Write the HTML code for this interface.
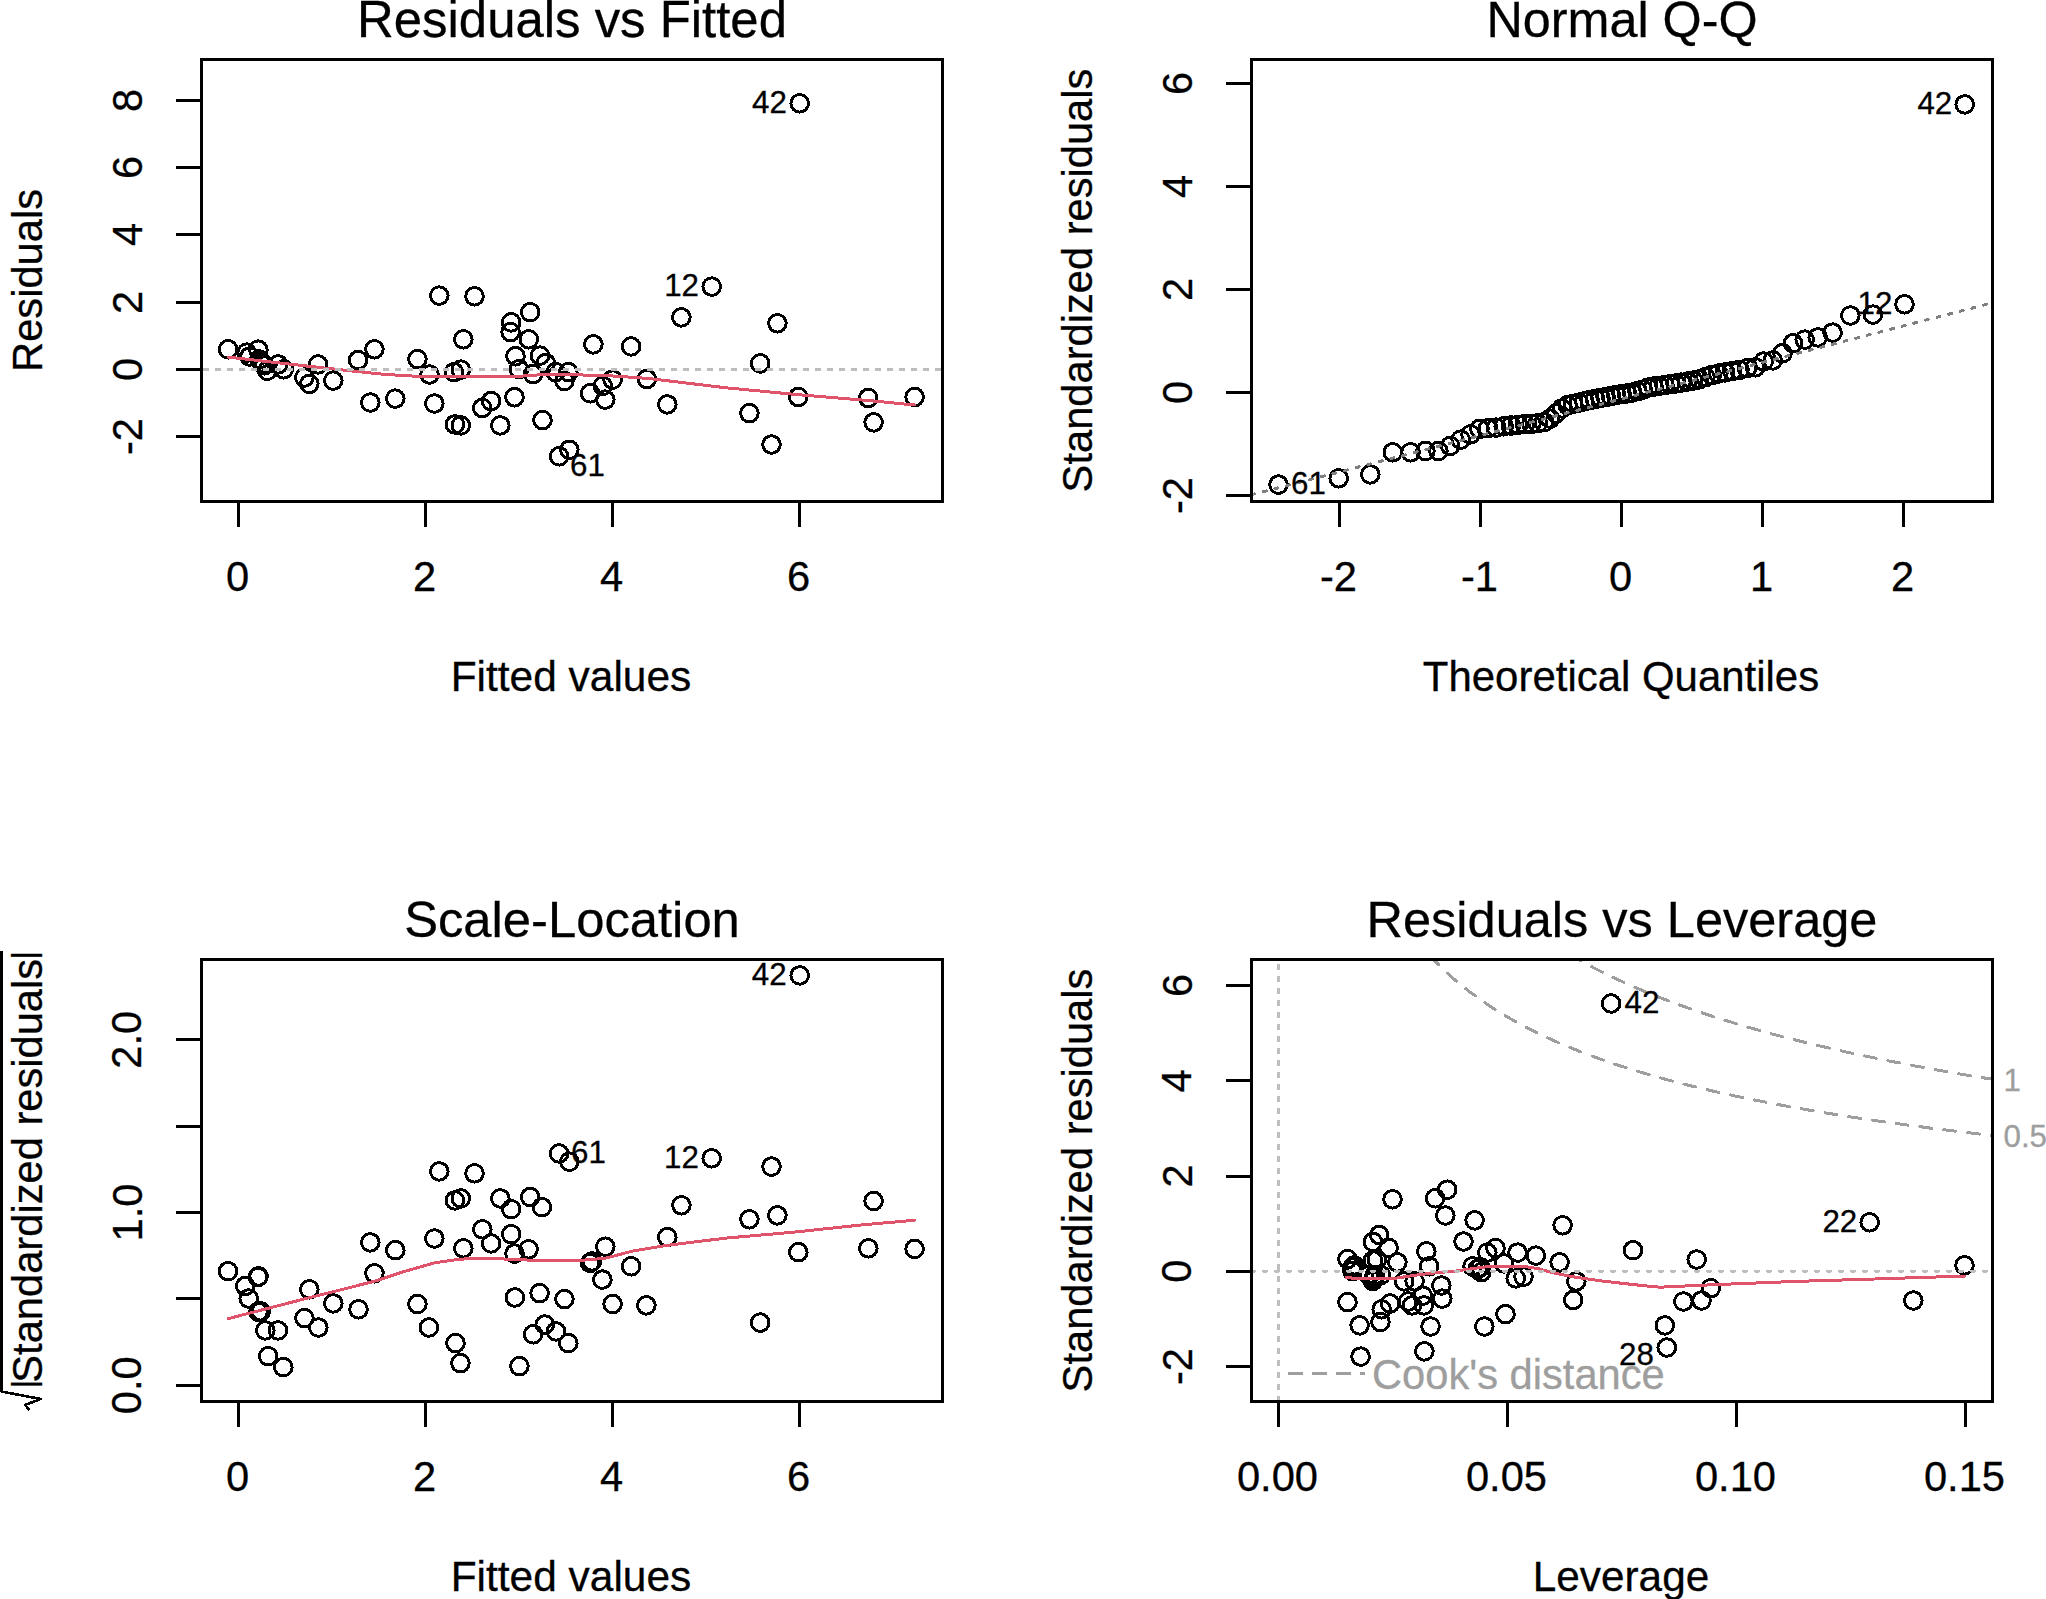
<!DOCTYPE html>
<html lang="en">
<head>
<meta charset="utf-8">
<title>Regression diagnostic plots</title>
<style>
html,body{margin:0;padding:0;background:#fff;}
body{width:2046px;height:1599px;overflow:hidden;}
svg{display:block;}
svg text{font-family:"Liberation Sans",Arial,Helvetica,sans-serif;}
</style>
</head>
<body>
<svg width="2046" height="1599" viewBox="0 0 2046 1599" shape-rendering="crispEdges">
<rect x="0" y="0" width="2046" height="1599" fill="#fff"/>
<rect x="201.5" y="59.5" width="741.0" height="442.0" fill="none" stroke="#000" stroke-width="3.0"/>
<text x="572.0" y="36.9" font-size="50.9" text-anchor="middle" fill="#000" stroke="#000" stroke-width="0.3">Residuals vs Fitted</text>
<line x1="238.5" y1="501.5" x2="238.5" y2="527.0" stroke="#000" stroke-width="3.0"/>
<text x="237.5" y="590.8" font-size="41.67" text-anchor="middle" fill="#000" stroke="#000" stroke-width="0.3">0</text>
<line x1="425.5" y1="501.5" x2="425.5" y2="527.0" stroke="#000" stroke-width="3.0"/>
<text x="424.5" y="590.8" font-size="41.67" text-anchor="middle" fill="#000" stroke="#000" stroke-width="0.3">2</text>
<line x1="612.5" y1="501.5" x2="612.5" y2="527.0" stroke="#000" stroke-width="3.0"/>
<text x="611.5" y="590.8" font-size="41.67" text-anchor="middle" fill="#000" stroke="#000" stroke-width="0.3">4</text>
<line x1="799.5" y1="501.5" x2="799.5" y2="527.0" stroke="#000" stroke-width="3.0"/>
<text x="798.5" y="590.8" font-size="41.67" text-anchor="middle" fill="#000" stroke="#000" stroke-width="0.3">6</text>
<text x="571.0" y="691.1" font-size="42.45" text-anchor="middle" fill="#000" stroke="#000" stroke-width="0.3">Fitted values</text>
<line x1="176.0" y1="100.5" x2="201.5" y2="100.5" stroke="#000" stroke-width="3.0"/>
<text x="141.5" y="100.5" font-size="41.67" text-anchor="middle" fill="#000" stroke="#000" stroke-width="0.3" transform="rotate(-90 141.5 100.5)">8</text>
<line x1="176.0" y1="167.5" x2="201.5" y2="167.5" stroke="#000" stroke-width="3.0"/>
<text x="141.5" y="167.5" font-size="41.67" text-anchor="middle" fill="#000" stroke="#000" stroke-width="0.3" transform="rotate(-90 141.5 167.5)">6</text>
<line x1="176.0" y1="234.5" x2="201.5" y2="234.5" stroke="#000" stroke-width="3.0"/>
<text x="141.5" y="234.5" font-size="41.67" text-anchor="middle" fill="#000" stroke="#000" stroke-width="0.3" transform="rotate(-90 141.5 234.5)">4</text>
<line x1="176.0" y1="302.5" x2="201.5" y2="302.5" stroke="#000" stroke-width="3.0"/>
<text x="141.5" y="302.5" font-size="41.67" text-anchor="middle" fill="#000" stroke="#000" stroke-width="0.3" transform="rotate(-90 141.5 302.5)">2</text>
<line x1="176.0" y1="369.5" x2="201.5" y2="369.5" stroke="#000" stroke-width="3.0"/>
<text x="141.5" y="369.5" font-size="41.67" text-anchor="middle" fill="#000" stroke="#000" stroke-width="0.3" transform="rotate(-90 141.5 369.5)">0</text>
<line x1="176.0" y1="436.5" x2="201.5" y2="436.5" stroke="#000" stroke-width="3.0"/>
<text x="141.5" y="436.5" font-size="41.67" text-anchor="middle" fill="#000" stroke="#000" stroke-width="0.3" transform="rotate(-90 141.5 436.5)">-2</text>
<text x="41.5" y="280.5" font-size="41.67" text-anchor="middle" fill="#000" stroke="#000" stroke-width="0.3" transform="rotate(-90 41.5 280.5)">Residuals</text>
<g fill="none" stroke="#000" stroke-width="3.0">
<circle cx="228.1" cy="349.3" r="8.8"/>
<circle cx="246.7" cy="352.6" r="8.8"/>
<circle cx="249.6" cy="356.5" r="8.8"/>
<circle cx="258.4" cy="349.7" r="8.8"/>
<circle cx="259.4" cy="359.5" r="8.8"/>
<circle cx="261.4" cy="362.4" r="8.8"/>
<circle cx="264.3" cy="365.3" r="8.8"/>
<circle cx="267.2" cy="370.8" r="8.8"/>
<circle cx="278.2" cy="364.4" r="8.8"/>
<circle cx="283.8" cy="369.3" r="8.8"/>
<circle cx="304.4" cy="377.5" r="8.8"/>
<circle cx="309.3" cy="383.9" r="8.8"/>
<circle cx="318.1" cy="364.4" r="8.8"/>
<circle cx="333.3" cy="380.6" r="8.8"/>
<circle cx="358.1" cy="360.1" r="8.8"/>
<circle cx="374.4" cy="349.3" r="8.8"/>
<circle cx="370.3" cy="402.5" r="8.8"/>
<circle cx="395.3" cy="398.6" r="8.8"/>
<circle cx="417.4" cy="359.1" r="8.8"/>
<circle cx="429.5" cy="374.5" r="8.8"/>
<circle cx="434.4" cy="403.5" r="8.8"/>
<circle cx="439.3" cy="295.6" r="8.8"/>
<circle cx="474.5" cy="296.3" r="8.8"/>
<circle cx="463.3" cy="339.3" r="8.8"/>
<circle cx="453.9" cy="372.2" r="8.8"/>
<circle cx="460.8" cy="369.6" r="8.8"/>
<circle cx="454.9" cy="424.4" r="8.8"/>
<circle cx="460.8" cy="425.4" r="8.8"/>
<circle cx="482.3" cy="408.0" r="8.8"/>
<circle cx="491.1" cy="401.1" r="8.8"/>
<circle cx="500.3" cy="425.4" r="8.8"/>
<circle cx="511.2" cy="322.3" r="8.8"/>
<circle cx="510.6" cy="332.1" r="8.8"/>
<circle cx="530.2" cy="312.2" r="8.8"/>
<circle cx="528.8" cy="339.3" r="8.8"/>
<circle cx="515.5" cy="356.2" r="8.8"/>
<circle cx="519.0" cy="369.3" r="8.8"/>
<circle cx="514.5" cy="397.2" r="8.8"/>
<circle cx="540.0" cy="355.6" r="8.8"/>
<circle cx="545.8" cy="363.0" r="8.8"/>
<circle cx="533.1" cy="374.1" r="8.8"/>
<circle cx="542.5" cy="420.1" r="8.8"/>
<circle cx="555.6" cy="372.2" r="8.8"/>
<circle cx="568.3" cy="372.2" r="8.8"/>
<circle cx="564.4" cy="381.0" r="8.8"/>
<circle cx="559.1" cy="456.3" r="8.8"/>
<circle cx="569.3" cy="449.8" r="8.8"/>
<circle cx="593.4" cy="344.4" r="8.8"/>
<circle cx="631.1" cy="346.4" r="8.8"/>
<circle cx="612.6" cy="379.6" r="8.8"/>
<circle cx="602.8" cy="385.9" r="8.8"/>
<circle cx="590.1" cy="393.3" r="8.8"/>
<circle cx="605.3" cy="399.6" r="8.8"/>
<circle cx="646.8" cy="379.0" r="8.8"/>
<circle cx="667.3" cy="404.4" r="8.8"/>
<circle cx="681.4" cy="317.4" r="8.8"/>
<circle cx="711.7" cy="286.6" r="8.8"/>
<circle cx="760.2" cy="363.4" r="8.8"/>
<circle cx="777.4" cy="323.3" r="8.8"/>
<circle cx="749.4" cy="413.2" r="8.8"/>
<circle cx="771.5" cy="444.5" r="8.8"/>
<circle cx="798.3" cy="397.0" r="8.8"/>
<circle cx="868.3" cy="398.0" r="8.8"/>
<circle cx="873.6" cy="422.4" r="8.8"/>
<circle cx="914.6" cy="397.0" r="8.8"/>
<circle cx="799.7" cy="103.3" r="8.8"/>
<circle cx="262.5" cy="363.5" r="8.8"/>
</g>
<polyline points="228.1,357.1 278.0,362.8 326.9,368.3 385.5,374.5 424.6,376.7 512.6,376.7 550.0,374.1 608.7,375.7 647.8,378.4 726.0,387.8 798.3,394.7 868.3,400.5 914.6,405.0" fill="none" stroke="#DF536B" stroke-width="3.0" stroke-linecap="round" stroke-linejoin="round"/>
<polyline points="204.5,369.5 941.0,369.5" fill="none" stroke="#BEBEBE" stroke-width="3.0" stroke-linecap="round" stroke-linejoin="round" stroke-dasharray="3 9"/>
<text x="786.9" y="113.2" font-size="31.3" text-anchor="end" fill="#000" stroke="#000" stroke-width="0.3">42</text>
<text x="699.0" y="296.0" font-size="31.3" text-anchor="end" fill="#000" stroke="#000" stroke-width="0.3">12</text>
<text x="570.0" y="476.0" font-size="31.3" text-anchor="start" fill="#000" stroke="#000" stroke-width="0.3">61</text>
<rect x="1251.5" y="59.5" width="741.0" height="442.0" fill="none" stroke="#000" stroke-width="3.0"/>
<text x="1622.0" y="36.9" font-size="50.3" text-anchor="middle" fill="#000" stroke="#000" stroke-width="0.3">Normal Q-Q</text>
<line x1="1339.5" y1="501.5" x2="1339.5" y2="527.0" stroke="#000" stroke-width="3.0"/>
<text x="1338.5" y="590.8" font-size="41.67" text-anchor="middle" fill="#000" stroke="#000" stroke-width="0.3">-2</text>
<line x1="1480.5" y1="501.5" x2="1480.5" y2="527.0" stroke="#000" stroke-width="3.0"/>
<text x="1479.5" y="590.8" font-size="41.67" text-anchor="middle" fill="#000" stroke="#000" stroke-width="0.3">-1</text>
<line x1="1621.5" y1="501.5" x2="1621.5" y2="527.0" stroke="#000" stroke-width="3.0"/>
<text x="1620.5" y="590.8" font-size="41.67" text-anchor="middle" fill="#000" stroke="#000" stroke-width="0.3">0</text>
<line x1="1762.5" y1="501.5" x2="1762.5" y2="527.0" stroke="#000" stroke-width="3.0"/>
<text x="1761.5" y="590.8" font-size="41.67" text-anchor="middle" fill="#000" stroke="#000" stroke-width="0.3">1</text>
<line x1="1903.5" y1="501.5" x2="1903.5" y2="527.0" stroke="#000" stroke-width="3.0"/>
<text x="1902.5" y="590.8" font-size="41.67" text-anchor="middle" fill="#000" stroke="#000" stroke-width="0.3">2</text>
<text x="1621.0" y="691.1" font-size="41.95" text-anchor="middle" fill="#000" stroke="#000" stroke-width="0.3">Theoretical Quantiles</text>
<line x1="1226.0" y1="83.5" x2="1251.5" y2="83.5" stroke="#000" stroke-width="3.0"/>
<text x="1191.5" y="83.5" font-size="41.67" text-anchor="middle" fill="#000" stroke="#000" stroke-width="0.3" transform="rotate(-90 1191.5 83.5)">6</text>
<line x1="1226.0" y1="186.5" x2="1251.5" y2="186.5" stroke="#000" stroke-width="3.0"/>
<text x="1191.5" y="186.5" font-size="41.67" text-anchor="middle" fill="#000" stroke="#000" stroke-width="0.3" transform="rotate(-90 1191.5 186.5)">4</text>
<line x1="1226.0" y1="289.5" x2="1251.5" y2="289.5" stroke="#000" stroke-width="3.0"/>
<text x="1191.5" y="289.5" font-size="41.67" text-anchor="middle" fill="#000" stroke="#000" stroke-width="0.3" transform="rotate(-90 1191.5 289.5)">2</text>
<line x1="1226.0" y1="392.5" x2="1251.5" y2="392.5" stroke="#000" stroke-width="3.0"/>
<text x="1191.5" y="392.5" font-size="41.67" text-anchor="middle" fill="#000" stroke="#000" stroke-width="0.3" transform="rotate(-90 1191.5 392.5)">0</text>
<line x1="1226.0" y1="495.5" x2="1251.5" y2="495.5" stroke="#000" stroke-width="3.0"/>
<text x="1191.5" y="495.5" font-size="41.67" text-anchor="middle" fill="#000" stroke="#000" stroke-width="0.3" transform="rotate(-90 1191.5 495.5)">-2</text>
<text x="1091.5" y="280.5" font-size="41.67" text-anchor="middle" fill="#000" stroke="#000" stroke-width="0.3" transform="rotate(-90 1091.5 280.5)">Standardized residuals</text>
<clipPath id="c2"><rect x="1253.2" y="61" width="737.7" height="438.7"/></clipPath>
<g fill="none" stroke="#000" stroke-width="3.0">
<circle cx="1278.5" cy="484.6" r="8.8"/>
<circle cx="1338.7" cy="478.3" r="8.8"/>
<circle cx="1370.3" cy="474.4" r="8.8"/>
<circle cx="1392.8" cy="452.3" r="8.8"/>
<circle cx="1410.6" cy="452.3" r="8.8"/>
<circle cx="1425.5" cy="451.0" r="8.8"/>
<circle cx="1438.5" cy="451.0" r="8.8"/>
<circle cx="1450.2" cy="445.9" r="8.8"/>
<circle cx="1460.7" cy="439.6" r="8.8"/>
<circle cx="1470.5" cy="434.4" r="8.8"/>
<circle cx="1479.5" cy="428.9" r="8.8"/>
<circle cx="1488.0" cy="428.3" r="8.8"/>
<circle cx="1496.1" cy="427.6" r="8.8"/>
<circle cx="1503.7" cy="426.3" r="8.8"/>
<circle cx="1511.0" cy="425.5" r="8.8"/>
<circle cx="1518.1" cy="424.8" r="8.8"/>
<circle cx="1524.9" cy="424.1" r="8.8"/>
<circle cx="1531.4" cy="423.9" r="8.8"/>
<circle cx="1537.8" cy="423.2" r="8.8"/>
<circle cx="1544.0" cy="422.3" r="8.8"/>
<circle cx="1550.1" cy="418.7" r="8.8"/>
<circle cx="1556.0" cy="413.5" r="8.8"/>
<circle cx="1561.9" cy="408.4" r="8.8"/>
<circle cx="1567.6" cy="405.1" r="8.8"/>
<circle cx="1573.2" cy="403.8" r="8.8"/>
<circle cx="1578.8" cy="402.6" r="8.8"/>
<circle cx="1584.3" cy="401.4" r="8.8"/>
<circle cx="1589.7" cy="400.2" r="8.8"/>
<circle cx="1595.1" cy="399.1" r="8.8"/>
<circle cx="1600.4" cy="398.0" r="8.8"/>
<circle cx="1605.7" cy="397.0" r="8.8"/>
<circle cx="1611.0" cy="395.9" r="8.8"/>
<circle cx="1616.3" cy="395.0" r="8.8"/>
<circle cx="1621.6" cy="394.2" r="8.8"/>
<circle cx="1626.9" cy="393.4" r="8.8"/>
<circle cx="1632.2" cy="392.6" r="8.8"/>
<circle cx="1637.5" cy="391.1" r="8.8"/>
<circle cx="1642.8" cy="389.6" r="8.8"/>
<circle cx="1648.1" cy="387.6" r="8.8"/>
<circle cx="1653.5" cy="386.6" r="8.8"/>
<circle cx="1658.9" cy="385.8" r="8.8"/>
<circle cx="1664.4" cy="385.1" r="8.8"/>
<circle cx="1670.0" cy="384.3" r="8.8"/>
<circle cx="1675.6" cy="383.5" r="8.8"/>
<circle cx="1681.3" cy="382.6" r="8.8"/>
<circle cx="1687.2" cy="381.6" r="8.8"/>
<circle cx="1693.1" cy="380.6" r="8.8"/>
<circle cx="1699.2" cy="379.4" r="8.8"/>
<circle cx="1705.4" cy="377.2" r="8.8"/>
<circle cx="1711.8" cy="375.0" r="8.8"/>
<circle cx="1718.3" cy="373.5" r="8.8"/>
<circle cx="1725.1" cy="372.4" r="8.8"/>
<circle cx="1732.2" cy="371.2" r="8.8"/>
<circle cx="1739.5" cy="369.9" r="8.8"/>
<circle cx="1747.1" cy="368.2" r="8.8"/>
<circle cx="1755.2" cy="367.3" r="8.8"/>
<circle cx="1763.7" cy="361.5" r="8.8"/>
<circle cx="1772.7" cy="360.4" r="8.8"/>
<circle cx="1782.5" cy="353.3" r="8.8"/>
<circle cx="1793.0" cy="343.3" r="8.8"/>
<circle cx="1804.7" cy="339.6" r="8.8"/>
<circle cx="1817.7" cy="337.4" r="8.8"/>
<circle cx="1832.6" cy="332.6" r="8.8"/>
<circle cx="1850.4" cy="315.5" r="8.8"/>
<circle cx="1872.9" cy="314.6" r="8.8"/>
<circle cx="1904.5" cy="304.3" r="8.8"/>
<circle cx="1964.7" cy="104.4" r="8.8"/>
</g>
<g clip-path="url(#c2)">
<polyline points="1240.0,497.7 2000.0,300.9" fill="none" stroke="#7F7F7F" stroke-width="3.0" stroke-linecap="round" stroke-linejoin="round" stroke-dasharray="3 9"/>
</g>
<text x="1952.2" y="114.0" font-size="31.3" text-anchor="end" fill="#000" stroke="#000" stroke-width="0.3">42</text>
<text x="1892.4" y="313.9" font-size="31.3" text-anchor="end" fill="#000" stroke="#000" stroke-width="0.3">12</text>
<text x="1291.0" y="493.6" font-size="31.3" text-anchor="start" fill="#000" stroke="#000" stroke-width="0.3">61</text>
<rect x="201.5" y="959.5" width="741.0" height="442.0" fill="none" stroke="#000" stroke-width="3.0"/>
<text x="572.0" y="936.9" font-size="50.75" text-anchor="middle" fill="#000" stroke="#000" stroke-width="0.3">Scale-Location</text>
<line x1="238.5" y1="1401.5" x2="238.5" y2="1427.0" stroke="#000" stroke-width="3.0"/>
<text x="237.5" y="1490.8" font-size="41.67" text-anchor="middle" fill="#000" stroke="#000" stroke-width="0.3">0</text>
<line x1="425.5" y1="1401.5" x2="425.5" y2="1427.0" stroke="#000" stroke-width="3.0"/>
<text x="424.5" y="1490.8" font-size="41.67" text-anchor="middle" fill="#000" stroke="#000" stroke-width="0.3">2</text>
<line x1="612.5" y1="1401.5" x2="612.5" y2="1427.0" stroke="#000" stroke-width="3.0"/>
<text x="611.5" y="1490.8" font-size="41.67" text-anchor="middle" fill="#000" stroke="#000" stroke-width="0.3">4</text>
<line x1="799.5" y1="1401.5" x2="799.5" y2="1427.0" stroke="#000" stroke-width="3.0"/>
<text x="798.5" y="1490.8" font-size="41.67" text-anchor="middle" fill="#000" stroke="#000" stroke-width="0.3">6</text>
<text x="571.0" y="1591.1" font-size="42.45" text-anchor="middle" fill="#000" stroke="#000" stroke-width="0.3">Fitted values</text>
<line x1="176.0" y1="1385.2" x2="201.5" y2="1385.2" stroke="#000" stroke-width="3.0"/>
<text x="141.5" y="1385.2" font-size="41.67" text-anchor="middle" fill="#000" stroke="#000" stroke-width="0.3" transform="rotate(-90 141.5 1385.2)">0.0</text>
<line x1="176.0" y1="1298.8" x2="201.5" y2="1298.8" stroke="#000" stroke-width="3.0"/>
<line x1="176.0" y1="1212.5" x2="201.5" y2="1212.5" stroke="#000" stroke-width="3.0"/>
<text x="141.5" y="1212.5" font-size="41.67" text-anchor="middle" fill="#000" stroke="#000" stroke-width="0.3" transform="rotate(-90 141.5 1212.5)">1.0</text>
<line x1="176.0" y1="1126.2" x2="201.5" y2="1126.2" stroke="#000" stroke-width="3.0"/>
<line x1="176.0" y1="1039.8" x2="201.5" y2="1039.8" stroke="#000" stroke-width="3.0"/>
<text x="141.5" y="1039.8" font-size="41.67" text-anchor="middle" fill="#000" stroke="#000" stroke-width="0.3" transform="rotate(-90 141.5 1039.8)">2.0</text>
<text x="42.0" y="1170.8" font-size="41.67" text-anchor="middle" fill="#000" stroke="#000" stroke-width="0.3" transform="rotate(-90 42.0 1170.8)">Standardized residuals</text>
<text font-size="34" text-anchor="start" stroke="#000" stroke-width="0.3" transform="translate(34.8 1388.4) rotate(-90)">|</text>
<text font-size="34" text-anchor="start" stroke="#000" stroke-width="0.3" transform="translate(34.8 959.8) rotate(-90)">|</text>
<polyline points="29.3,1410.3 25.4,1404.8 40.8,1399 1.3,1391.5 1.3,951" fill="none" stroke="#000" stroke-width="2.6" stroke-linejoin="round"/>
<g fill="none" stroke="#000" stroke-width="3.0">
<circle cx="228.1" cy="1271.2" r="8.8"/>
<circle cx="245.3" cy="1286.0" r="8.8"/>
<circle cx="258.0" cy="1277.0" r="8.8"/>
<circle cx="248.7" cy="1298.5" r="8.8"/>
<circle cx="258.4" cy="1311.8" r="8.8"/>
<circle cx="260.8" cy="1311.4" r="8.8"/>
<circle cx="265.3" cy="1330.4" r="8.8"/>
<circle cx="278.0" cy="1330.4" r="8.8"/>
<circle cx="268.2" cy="1356.2" r="8.8"/>
<circle cx="283.3" cy="1367.1" r="8.8"/>
<circle cx="309.3" cy="1289.3" r="8.8"/>
<circle cx="304.4" cy="1318.1" r="8.8"/>
<circle cx="318.4" cy="1327.5" r="8.8"/>
<circle cx="333.3" cy="1303.4" r="8.8"/>
<circle cx="358.5" cy="1309.3" r="8.8"/>
<circle cx="370.3" cy="1242.4" r="8.8"/>
<circle cx="374.4" cy="1273.3" r="8.8"/>
<circle cx="395.3" cy="1250.2" r="8.8"/>
<circle cx="417.4" cy="1304.0" r="8.8"/>
<circle cx="428.9" cy="1327.5" r="8.8"/>
<circle cx="434.4" cy="1238.5" r="8.8"/>
<circle cx="439.3" cy="1171.4" r="8.8"/>
<circle cx="474.5" cy="1173.4" r="8.8"/>
<circle cx="454.9" cy="1200.4" r="8.8"/>
<circle cx="460.8" cy="1198.4" r="8.8"/>
<circle cx="463.3" cy="1248.3" r="8.8"/>
<circle cx="455.5" cy="1343.1" r="8.8"/>
<circle cx="460.4" cy="1363.2" r="8.8"/>
<circle cx="482.3" cy="1229.3" r="8.8"/>
<circle cx="491.1" cy="1243.4" r="8.8"/>
<circle cx="500.3" cy="1198.4" r="8.8"/>
<circle cx="511.2" cy="1209.2" r="8.8"/>
<circle cx="511.2" cy="1234.2" r="8.8"/>
<circle cx="514.5" cy="1253.6" r="8.8"/>
<circle cx="514.9" cy="1297.5" r="8.8"/>
<circle cx="519.4" cy="1366.2" r="8.8"/>
<circle cx="530.2" cy="1197.1" r="8.8"/>
<circle cx="541.9" cy="1207.2" r="8.8"/>
<circle cx="528.6" cy="1249.3" r="8.8"/>
<circle cx="539.6" cy="1293.2" r="8.8"/>
<circle cx="533.1" cy="1334.3" r="8.8"/>
<circle cx="544.8" cy="1324.5" r="8.8"/>
<circle cx="556.0" cy="1331.4" r="8.8"/>
<circle cx="564.4" cy="1299.1" r="8.8"/>
<circle cx="568.3" cy="1343.1" r="8.8"/>
<circle cx="559.1" cy="1153.5" r="8.8"/>
<circle cx="569.3" cy="1161.7" r="8.8"/>
<circle cx="605.3" cy="1246.7" r="8.8"/>
<circle cx="592.0" cy="1261.4" r="8.8"/>
<circle cx="590.1" cy="1262.9" r="8.8"/>
<circle cx="602.4" cy="1279.6" r="8.8"/>
<circle cx="631.1" cy="1266.3" r="8.8"/>
<circle cx="612.6" cy="1304.0" r="8.8"/>
<circle cx="646.4" cy="1305.4" r="8.8"/>
<circle cx="667.3" cy="1237.1" r="8.8"/>
<circle cx="681.4" cy="1205.3" r="8.8"/>
<circle cx="711.7" cy="1158.3" r="8.8"/>
<circle cx="749.4" cy="1219.3" r="8.8"/>
<circle cx="777.4" cy="1215.4" r="8.8"/>
<circle cx="771.5" cy="1166.6" r="8.8"/>
<circle cx="760.2" cy="1322.6" r="8.8"/>
<circle cx="798.3" cy="1252.2" r="8.8"/>
<circle cx="873.6" cy="1201.0" r="8.8"/>
<circle cx="868.3" cy="1248.3" r="8.8"/>
<circle cx="914.6" cy="1248.9" r="8.8"/>
<circle cx="799.7" cy="975.4" r="8.8"/>
<circle cx="258.6" cy="1276.4" r="8.8"/>
</g>
<polyline points="228.1,1318.7 268.2,1308.3 311.2,1297.2 346.4,1288.4 375.7,1280.9 405.1,1271.2 434.4,1262.9 453.9,1260.0 473.5,1258.1 493.0,1258.1 510.6,1259.6 551.7,1260.6 550.0,1260.6 563.7,1261.0 585.2,1260.0 604.7,1258.4 632.1,1251.2 667.3,1245.3 726.0,1238.1 794.4,1232.1 862.8,1224.8 914.6,1220.3" fill="none" stroke="#DF536B" stroke-width="3.0" stroke-linecap="round" stroke-linejoin="round"/>
<text x="786.6" y="984.8" font-size="31.3" text-anchor="end" fill="#000" stroke="#000" stroke-width="0.3">42</text>
<text x="698.8" y="1168.1" font-size="31.3" text-anchor="end" fill="#000" stroke="#000" stroke-width="0.3">12</text>
<text x="571.0" y="1163.2" font-size="31.3" text-anchor="start" fill="#000" stroke="#000" stroke-width="0.3">61</text>
<rect x="1251.5" y="959.5" width="741.0" height="442.0" fill="none" stroke="#000" stroke-width="3.0"/>
<text x="1622.0" y="936.9" font-size="50.5" text-anchor="middle" fill="#000" stroke="#000" stroke-width="0.3">Residuals vs Leverage</text>
<line x1="1278.5" y1="1401.5" x2="1278.5" y2="1427.0" stroke="#000" stroke-width="3.0"/>
<text x="1277.5" y="1490.8" font-size="41.67" text-anchor="middle" fill="#000" stroke="#000" stroke-width="0.3">0.00</text>
<line x1="1507.5" y1="1401.5" x2="1507.5" y2="1427.0" stroke="#000" stroke-width="3.0"/>
<text x="1506.5" y="1490.8" font-size="41.67" text-anchor="middle" fill="#000" stroke="#000" stroke-width="0.3">0.05</text>
<line x1="1736.5" y1="1401.5" x2="1736.5" y2="1427.0" stroke="#000" stroke-width="3.0"/>
<text x="1735.5" y="1490.8" font-size="41.67" text-anchor="middle" fill="#000" stroke="#000" stroke-width="0.3">0.10</text>
<line x1="1965.5" y1="1401.5" x2="1965.5" y2="1427.0" stroke="#000" stroke-width="3.0"/>
<text x="1964.5" y="1490.8" font-size="41.67" text-anchor="middle" fill="#000" stroke="#000" stroke-width="0.3">0.15</text>
<text x="1621.0" y="1591.1" font-size="42.3" text-anchor="middle" fill="#000" stroke="#000" stroke-width="0.3">Leverage</text>
<line x1="1226.0" y1="985.5" x2="1251.5" y2="985.5" stroke="#000" stroke-width="3.0"/>
<text x="1191.5" y="985.5" font-size="41.67" text-anchor="middle" fill="#000" stroke="#000" stroke-width="0.3" transform="rotate(-90 1191.5 985.5)">6</text>
<line x1="1226.0" y1="1080.8" x2="1251.5" y2="1080.8" stroke="#000" stroke-width="3.0"/>
<text x="1191.5" y="1080.8" font-size="41.67" text-anchor="middle" fill="#000" stroke="#000" stroke-width="0.3" transform="rotate(-90 1191.5 1080.8)">4</text>
<line x1="1226.0" y1="1176.0" x2="1251.5" y2="1176.0" stroke="#000" stroke-width="3.0"/>
<text x="1191.5" y="1176.0" font-size="41.67" text-anchor="middle" fill="#000" stroke="#000" stroke-width="0.3" transform="rotate(-90 1191.5 1176.0)">2</text>
<line x1="1226.0" y1="1271.2" x2="1251.5" y2="1271.2" stroke="#000" stroke-width="3.0"/>
<text x="1191.5" y="1271.2" font-size="41.67" text-anchor="middle" fill="#000" stroke="#000" stroke-width="0.3" transform="rotate(-90 1191.5 1271.2)">0</text>
<line x1="1226.0" y1="1366.5" x2="1251.5" y2="1366.5" stroke="#000" stroke-width="3.0"/>
<text x="1191.5" y="1366.5" font-size="41.67" text-anchor="middle" fill="#000" stroke="#000" stroke-width="0.3" transform="rotate(-90 1191.5 1366.5)">-2</text>
<text x="1091.5" y="1180.5" font-size="41.67" text-anchor="middle" fill="#000" stroke="#000" stroke-width="0.3" transform="rotate(-90 1091.5 1180.5)">Standardized residuals</text>
<g fill="none" stroke="#000" stroke-width="3.0">
<circle cx="1347.5" cy="1259.1" r="8.8"/>
<circle cx="1352.4" cy="1271.2" r="8.8"/>
<circle cx="1354.4" cy="1265.3" r="8.8"/>
<circle cx="1347.5" cy="1302.1" r="8.8"/>
<circle cx="1359.6" cy="1325.4" r="8.8"/>
<circle cx="1360.6" cy="1356.6" r="8.8"/>
<circle cx="1372.9" cy="1241.9" r="8.8"/>
<circle cx="1379.2" cy="1235.0" r="8.8"/>
<circle cx="1388.6" cy="1247.8" r="8.8"/>
<circle cx="1372.9" cy="1260.5" r="8.8"/>
<circle cx="1376.9" cy="1259.5" r="8.8"/>
<circle cx="1369.0" cy="1275.1" r="8.8"/>
<circle cx="1374.9" cy="1275.1" r="8.8"/>
<circle cx="1380.8" cy="1275.1" r="8.8"/>
<circle cx="1372.9" cy="1281.0" r="8.8"/>
<circle cx="1397.4" cy="1262.4" r="8.8"/>
<circle cx="1392.5" cy="1199.3" r="8.8"/>
<circle cx="1390.1" cy="1303.5" r="8.8"/>
<circle cx="1381.7" cy="1309.3" r="8.8"/>
<circle cx="1380.4" cy="1322.0" r="8.8"/>
<circle cx="1404.2" cy="1281.4" r="8.8"/>
<circle cx="1414.6" cy="1281.4" r="8.8"/>
<circle cx="1408.1" cy="1301.5" r="8.8"/>
<circle cx="1412.0" cy="1305.4" r="8.8"/>
<circle cx="1422.8" cy="1295.7" r="8.8"/>
<circle cx="1423.8" cy="1305.4" r="8.8"/>
<circle cx="1426.3" cy="1251.3" r="8.8"/>
<circle cx="1429.2" cy="1266.3" r="8.8"/>
<circle cx="1430.6" cy="1326.5" r="8.8"/>
<circle cx="1424.4" cy="1351.4" r="8.8"/>
<circle cx="1441.4" cy="1285.5" r="8.8"/>
<circle cx="1442.3" cy="1298.6" r="8.8"/>
<circle cx="1435.1" cy="1198.3" r="8.8"/>
<circle cx="1447.2" cy="1189.7" r="8.8"/>
<circle cx="1445.3" cy="1215.5" r="8.8"/>
<circle cx="1463.5" cy="1241.5" r="8.8"/>
<circle cx="1474.6" cy="1220.4" r="8.8"/>
<circle cx="1472.6" cy="1266.3" r="8.8"/>
<circle cx="1480.5" cy="1267.3" r="8.8"/>
<circle cx="1481.4" cy="1272.2" r="8.8"/>
<circle cx="1487.3" cy="1252.6" r="8.8"/>
<circle cx="1495.5" cy="1248.1" r="8.8"/>
<circle cx="1503.9" cy="1263.4" r="8.8"/>
<circle cx="1517.6" cy="1252.6" r="8.8"/>
<circle cx="1535.8" cy="1255.6" r="8.8"/>
<circle cx="1515.7" cy="1278.4" r="8.8"/>
<circle cx="1523.5" cy="1276.7" r="8.8"/>
<circle cx="1484.4" cy="1326.5" r="8.8"/>
<circle cx="1505.5" cy="1314.2" r="8.8"/>
<circle cx="1559.6" cy="1262.4" r="8.8"/>
<circle cx="1562.6" cy="1225.3" r="8.8"/>
<circle cx="1576.3" cy="1281.4" r="8.8"/>
<circle cx="1573.3" cy="1300.0" r="8.8"/>
<circle cx="1633.0" cy="1250.3" r="8.8"/>
<circle cx="1696.7" cy="1259.5" r="8.8"/>
<circle cx="1710.8" cy="1288.2" r="8.8"/>
<circle cx="1683.4" cy="1301.5" r="8.8"/>
<circle cx="1701.6" cy="1300.5" r="8.8"/>
<circle cx="1664.8" cy="1325.4" r="8.8"/>
<circle cx="1666.8" cy="1347.5" r="8.8"/>
<circle cx="1869.7" cy="1222.3" r="8.8"/>
<circle cx="1913.3" cy="1300.5" r="8.8"/>
<circle cx="1964.5" cy="1265.3" r="8.8"/>
<circle cx="1611.1" cy="1003.5" r="8.8"/>
<circle cx="1477.5" cy="1269.3" r="8.8"/>
<circle cx="1374.0" cy="1278.0" r="8.8"/>
<circle cx="1352.5" cy="1267.5" r="8.8"/>
</g>
<polyline points="1346.5,1277.7 1361.2,1278.6 1376.9,1279.0 1396.4,1278.1 1416.0,1275.1 1435.5,1272.8 1455.1,1271.2 1474.6,1268.3 1486.3,1266.9 1527.4,1266.9 1539.1,1268.9 1552.8,1272.8 1572.4,1276.7 1601.7,1281.0 1640.0,1285.3 1659.6,1287.2 1718.2,1284.5 1796.4,1281.4 1874.6,1279.0 1964.5,1276.1" fill="none" stroke="#DF536B" stroke-width="3.0" stroke-linecap="round" stroke-linejoin="round"/>
<clipPath id="c4"><rect x="1253.0" y="961.0" width="738.0" height="439.0"/></clipPath>
<g clip-path="url(#c4)">
<polyline points="1251.5,1271.2 1992.5,1271.2" fill="none" stroke="#BEBEBE" stroke-width="3.0" stroke-linecap="round" stroke-linejoin="round" stroke-dasharray="3 9"/>
<polyline points="1278.5,965.5 1278.5,1401.5" fill="none" stroke="#BEBEBE" stroke-width="3.0" stroke-linecap="round" stroke-linejoin="round" stroke-dasharray="3 9"/>
<polyline points="1370.1,863.0 1373.2,869.9 1376.3,876.4 1379.4,882.7 1382.5,888.7 1385.7,894.4 1388.8,899.9 1391.9,905.2 1395.0,910.2 1398.1,915.1 1401.2,919.7 1404.3,924.2 1407.4,928.6 1410.6,932.7 1413.7,936.8 1416.8,940.7 1419.9,944.4 1423.0,948.1 1426.1,951.6 1429.2,955.1 1432.3,958.4 1435.5,961.6 1438.6,964.7 1441.7,967.8 1444.8,970.7 1447.9,973.6 1451.0,976.4 1454.1,979.2 1457.2,981.8 1460.3,984.4 1463.5,986.9 1466.6,989.4 1469.7,991.8 1472.8,994.1 1475.9,996.4 1479.0,998.7 1482.1,1000.8 1485.2,1003.0 1488.4,1005.1 1491.5,1007.1 1494.6,1009.1 1497.7,1011.1 1500.8,1013.0 1503.9,1014.9 1507.0,1016.7 1510.1,1018.5 1513.3,1020.3 1516.4,1022.0 1519.5,1023.7 1522.6,1025.4 1525.7,1027.1 1528.8,1028.7 1531.9,1030.2 1535.0,1031.8 1538.1,1033.3 1541.3,1034.8 1544.4,1036.3 1547.5,1037.7 1550.6,1039.2 1553.7,1040.6 1556.8,1041.9 1559.9,1043.3 1563.0,1044.6 1566.2,1045.9 1569.3,1047.2 1572.4,1048.5 1575.5,1049.7 1578.6,1051.0 1581.7,1052.2 1584.8,1053.4 1587.9,1054.6 1591.1,1055.7 1594.2,1056.9 1597.3,1058.0 1600.4,1059.1 1603.5,1060.2 1606.6,1061.3 1609.7,1062.3 1612.8,1063.4 1615.9,1064.4 1619.1,1065.5 1622.2,1066.5 1625.3,1067.5 1628.4,1068.4 1631.5,1069.4 1634.6,1070.4 1637.7,1071.3 1640.8,1072.2 1644.0,1073.2 1647.1,1074.1 1650.2,1075.0 1653.3,1075.9 1656.4,1076.7 1659.5,1077.6 1662.6,1078.5 1665.7,1079.3 1668.9,1080.2 1672.0,1081.0 1675.1,1081.8 1678.2,1082.6 1681.3,1083.4 1684.4,1084.2 1687.5,1085.0 1690.6,1085.8 1693.7,1086.5 1696.9,1087.3 1700.0,1088.0 1703.1,1088.8 1706.2,1089.5 1709.3,1090.2 1712.4,1091.0 1715.5,1091.7 1718.6,1092.4 1721.8,1093.1 1724.9,1093.7 1728.0,1094.4 1731.1,1095.1 1734.2,1095.8 1737.3,1096.4 1740.4,1097.1 1743.5,1097.7 1746.7,1098.4 1749.8,1099.0 1752.9,1099.7 1756.0,1100.3 1759.1,1100.9 1762.2,1101.5 1765.3,1102.1 1768.4,1102.7 1771.5,1103.3 1774.7,1103.9 1777.8,1104.5 1780.9,1105.1 1784.0,1105.7 1787.1,1106.2 1790.2,1106.8 1793.3,1107.3 1796.4,1107.9 1799.6,1108.5 1802.7,1109.0 1805.8,1109.5 1808.9,1110.1 1812.0,1110.6 1815.1,1111.1 1818.2,1111.7 1821.3,1112.2 1824.5,1112.7 1827.6,1113.2 1830.7,1113.7 1833.8,1114.2 1836.9,1114.7 1840.0,1115.2 1843.1,1115.7 1846.2,1116.2 1849.3,1116.7 1852.5,1117.2 1855.6,1117.6 1858.7,1118.1 1861.8,1118.6 1864.9,1119.0 1868.0,1119.5 1871.1,1120.0 1874.2,1120.4 1877.4,1120.9 1880.5,1121.3 1883.6,1121.8 1886.7,1122.2 1889.8,1122.6 1892.9,1123.1 1896.0,1123.5 1899.1,1123.9 1902.3,1124.4 1905.4,1124.8 1908.5,1125.2 1911.6,1125.6 1914.7,1126.0 1917.8,1126.4 1920.9,1126.8 1924.0,1127.2 1927.1,1127.7 1930.3,1128.1 1933.4,1128.4 1936.5,1128.8 1939.6,1129.2 1942.7,1129.6 1945.8,1130.0 1948.9,1130.4 1952.0,1130.8 1955.2,1131.2 1958.3,1131.5 1961.4,1131.9 1964.5,1132.3 1967.6,1132.7 1970.7,1133.0 1973.8,1133.4 1976.9,1133.7 1980.1,1134.1 1983.2,1134.5 1986.3,1134.8 1989.4,1135.2 1992.5,1135.5" fill="none" stroke="#9E9E9E" stroke-width="3.0" stroke-linecap="round" stroke-linejoin="round" stroke-dasharray="12 12" stroke-dashoffset="8.5"/>
<polyline points="1370.1,693.8 1373.2,703.6 1376.3,712.9 1379.4,721.8 1382.5,730.2 1385.7,738.3 1388.8,746.1 1391.9,753.5 1395.0,760.7 1398.1,767.5 1401.2,774.1 1404.3,780.5 1407.4,786.6 1410.6,792.5 1413.7,798.2 1416.8,803.7 1419.9,809.1 1423.0,814.2 1426.1,819.2 1429.2,824.1 1432.3,828.8 1435.5,833.4 1438.6,837.8 1441.7,842.1 1444.8,846.3 1447.9,850.3 1451.0,854.3 1454.1,858.2 1457.2,861.9 1460.3,865.6 1463.5,869.1 1466.6,872.6 1469.7,876.0 1472.8,879.3 1475.9,882.6 1479.0,885.7 1482.1,888.8 1485.2,891.9 1488.4,894.8 1491.5,897.7 1494.6,900.5 1497.7,903.3 1500.8,906.0 1503.9,908.7 1507.0,911.3 1510.1,913.9 1513.3,916.4 1516.4,918.8 1519.5,921.2 1522.6,923.6 1525.7,925.9 1528.8,928.2 1531.9,930.4 1535.0,932.6 1538.1,934.8 1541.3,936.9 1544.4,939.0 1547.5,941.0 1550.6,943.0 1553.7,945.0 1556.8,947.0 1559.9,948.9 1563.0,950.8 1566.2,952.6 1569.3,954.4 1572.4,956.2 1575.5,958.0 1578.6,959.7 1581.7,961.5 1584.8,963.1 1587.9,964.8 1591.1,966.4 1594.2,968.1 1597.3,969.7 1600.4,971.2 1603.5,972.8 1606.6,974.3 1609.7,975.8 1612.8,977.3 1615.9,978.8 1619.1,980.2 1622.2,981.6 1625.3,983.0 1628.4,984.4 1631.5,985.8 1634.6,987.2 1637.7,988.5 1640.8,989.8 1644.0,991.1 1647.1,992.4 1650.2,993.7 1653.3,994.9 1656.4,996.2 1659.5,997.4 1662.6,998.6 1665.7,999.8 1668.9,1001.0 1672.0,1002.2 1675.1,1003.3 1678.2,1004.5 1681.3,1005.6 1684.4,1006.7 1687.5,1007.8 1690.6,1008.9 1693.7,1010.0 1696.9,1011.1 1700.0,1012.1 1703.1,1013.2 1706.2,1014.2 1709.3,1015.3 1712.4,1016.3 1715.5,1017.3 1718.6,1018.3 1721.8,1019.3 1724.9,1020.2 1728.0,1021.2 1731.1,1022.1 1734.2,1023.1 1737.3,1024.0 1740.4,1025.0 1743.5,1025.9 1746.7,1026.8 1749.8,1027.7 1752.9,1028.6 1756.0,1029.5 1759.1,1030.3 1762.2,1031.2 1765.3,1032.1 1768.4,1032.9 1771.5,1033.8 1774.7,1034.6 1777.8,1035.4 1780.9,1036.2 1784.0,1037.1 1787.1,1037.9 1790.2,1038.7 1793.3,1039.5 1796.4,1040.2 1799.6,1041.0 1802.7,1041.8 1805.8,1042.6 1808.9,1043.3 1812.0,1044.1 1815.1,1044.8 1818.2,1045.6 1821.3,1046.3 1824.5,1047.0 1827.6,1047.7 1830.7,1048.5 1833.8,1049.2 1836.9,1049.9 1840.0,1050.6 1843.1,1051.3 1846.2,1052.0 1849.3,1052.6 1852.5,1053.3 1855.6,1054.0 1858.7,1054.7 1861.8,1055.3 1864.9,1056.0 1868.0,1056.6 1871.1,1057.3 1874.2,1057.9 1877.4,1058.6 1880.5,1059.2 1883.6,1059.8 1886.7,1060.5 1889.8,1061.1 1892.9,1061.7 1896.0,1062.3 1899.1,1062.9 1902.3,1063.5 1905.4,1064.1 1908.5,1064.7 1911.6,1065.3 1914.7,1065.9 1917.8,1066.5 1920.9,1067.0 1924.0,1067.6 1927.1,1068.2 1930.3,1068.7 1933.4,1069.3 1936.5,1069.9 1939.6,1070.4 1942.7,1071.0 1945.8,1071.5 1948.9,1072.1 1952.0,1072.6 1955.2,1073.1 1958.3,1073.7 1961.4,1074.2 1964.5,1074.7 1967.6,1075.2 1970.7,1075.8 1973.8,1076.3 1976.9,1076.8 1980.1,1077.3 1983.2,1077.8 1986.3,1078.3 1989.4,1078.8 1992.5,1079.3" fill="none" stroke="#9E9E9E" stroke-width="3.0" stroke-linecap="round" stroke-linejoin="round" stroke-dasharray="12 12" stroke-dashoffset="21.9"/>
</g>
<polyline points="1289.4,1373.5 1363.6,1373.5" fill="none" stroke="#9E9E9E" stroke-width="3.0" stroke-linecap="round" stroke-linejoin="round" stroke-dasharray="12 12"/>
<text x="1372.0" y="1388.5" font-size="41.67" text-anchor="start" fill="#9E9E9E" stroke="#9E9E9E" stroke-width="0.3">Cook's distance</text>
<text x="2003.5" y="1090.6" font-size="31.3" text-anchor="start" fill="#9E9E9E" stroke="#9E9E9E" stroke-width="0.3">1</text>
<text x="2003.5" y="1147.4" font-size="31.3" text-anchor="start" fill="#9E9E9E" stroke="#9E9E9E" stroke-width="0.3">0.5</text>
<text x="1624.6" y="1013.0" font-size="31.3" text-anchor="start" fill="#000" stroke="#000" stroke-width="0.3">42</text>
<text x="1857.2" y="1231.7" font-size="31.3" text-anchor="end" fill="#000" stroke="#000" stroke-width="0.3">22</text>
<text x="1653.9" y="1365.0" font-size="31.3" text-anchor="end" fill="#000" stroke="#000" stroke-width="0.3">28</text>
</svg>
</body>
</html>
